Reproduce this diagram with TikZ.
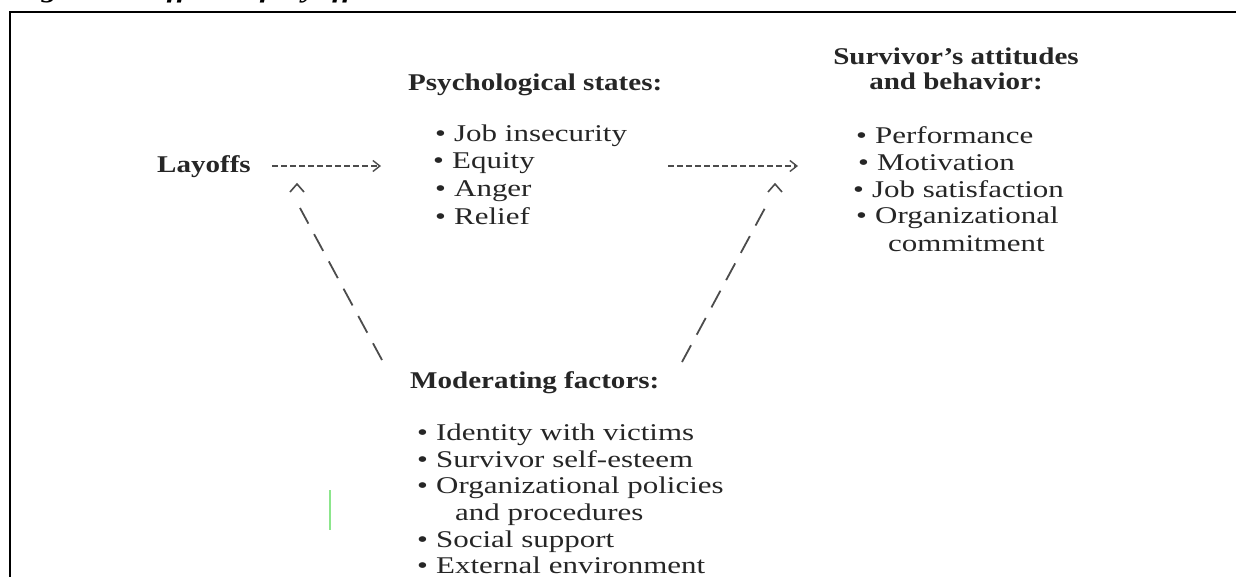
\documentclass[tikz,border=0pt]{standalone}
\usepackage{fontspec}
\setmainfont{Liberation Serif}[FakeStretch=1.21]
\newfontfamily\bodyfont{Liberation Serif}[FakeStretch=1.29]
\usetikzlibrary{arrows.meta}
\definecolor{lightgreen}{RGB}{140,230,140}
\newcommand{\mybul}{\makebox[19pt][l]{•}}
\begin{document}
\begin{tikzpicture}[x=1pt,y=-1pt,
  txt/.style={anchor=base west,inner sep=0pt,font=\bodyfont\fontsize{24}{27}\selectfont,text=black!85},
  hd/.style={anchor=base west,inner sep=0pt,font=\fontsize{24}{27}\selectfont\bfseries,text=black!85},
  hdc/.style={hd,anchor=base},
  harrow/.style={draw=black!70,line width=1.4pt,dash pattern=on 6pt off 3pt,-{Straight Barb[length=7pt,width=11pt,line width=1.4pt]}},
  slash/.style={draw=black!70,line width=1.8pt,dash pattern=on 19pt off 12pt},
  caret/.style={draw=black!70,line width=1.6pt},
  frame/.style={draw=black,line width=2.5pt}]
\useasboundingbox (0,0) rectangle (1236,576);
\begin{scope}
  \clip (0,0) rectangle (1236,576);
  \node[anchor=base west,inner sep=0pt,font=\fontsize{26}{28}\selectfont\bfseries\itshape] (title) at (12,-3) {Figure 1: Effects of layoffs};
\end{scope}
\draw[frame] (10,590) -- (10,12) -- (1250,12);

% Layoffs
\node[hd] (lay) at (157,172) {Layoffs};

% Psychological states
\node[hd] (psyh) at (408,90) {Psychological states:};
\node[txt] (p1) at (435,141) {\mybul Job insecurity};
\node[txt] (p2) at (433,168) {\mybul Equity};
\node[txt] (p3) at (435,196) {\mybul Anger};
\node[txt] (p4) at (435,224) {\mybul Relief};

% Survivor's attitudes
\node[hdc] (sh1) at (956,64) {Survivor's attitudes};
\node[hdc] (sh2) at (956,89) {and behavior:};
\node[txt] (s1) at (856,143) {\mybul Performance};
\node[txt] (s2) at (858,170) {\mybul Motivation};
\node[txt] (s3) at (853,197) {\mybul Job satisfaction};
\node[txt] (s4) at (856,223) {\mybul Organizational};
\node[txt] (s5) at (888,251) {commitment};

% Moderating factors
\node[hd] (mh) at (410,388) {Moderating factors:};
\node[txt] (m1) at (417,440) {\mybul Identity with victims};
\node[txt] (m2) at (417,467) {\mybul Survivor self-esteem};
\node[txt] (m3) at (417,493) {\mybul Organizational policies};
\node[txt] (m4) at (455,520) {and procedures};
\node[txt] (m5) at (417,547) {\mybul Social support};
\node[txt] (m6) at (417,573) {\mybul External environment};

% connectors
\coordinate (a1s) at (272,166);
\coordinate (a1e) at (381,166);
\coordinate (a2s) at (668,166);
\coordinate (a2e) at (798,166);
\draw[harrow] (a1s) -- (a1e);
\draw[harrow] (a2s) -- (a2e);

\coordinate (lc) at (297,184);
\coordinate (rc) at (775,184);
\coordinate (ld1) at (382,360);
\coordinate (ld2) at (300,208);
\coordinate (rd1) at (682,362);
\coordinate (rd2) at (765,208);
\draw[slash] (ld1) -- (ld2);
\draw[slash] (rd1) -- (rd2);
\draw[caret] ([shift={(-7,8)}]lc) -- (lc) -- ([shift={(7,8)}]lc);
\draw[caret] ([shift={(-7,8)}]rc) -- (rc) -- ([shift={(7,8)}]rc);

% green mark
\draw[lightgreen,line width=2pt] (330,490) -- (330,530);
\end{tikzpicture}
\end{document}
